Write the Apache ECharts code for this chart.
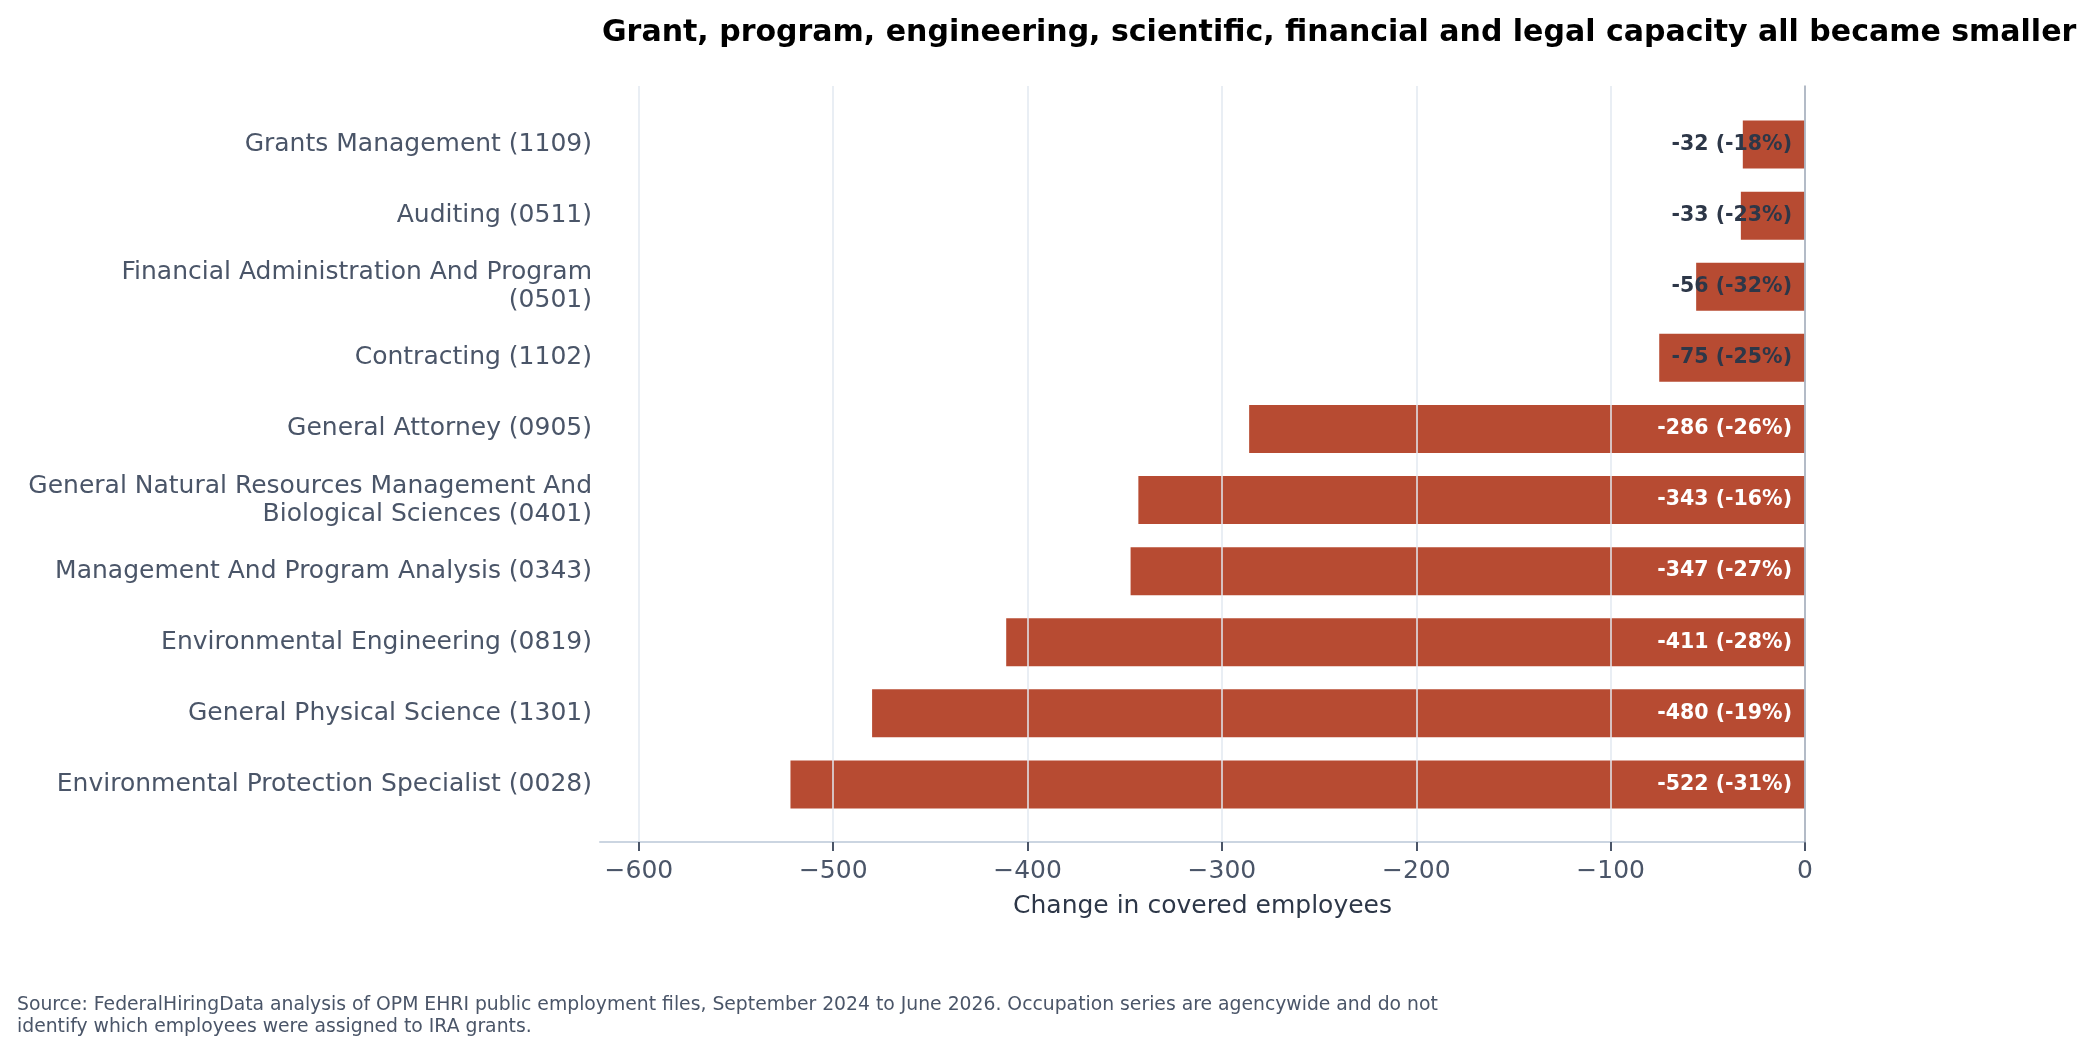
<!DOCTYPE html>
<html>
<head>
<meta charset="utf-8">
<title>Occupation change</title>
<script src="https://cdn.jsdelivr.net/npm/echarts@6/dist/echarts.min.js"></script>
<style>
	html, body { margin: 0; padding: 0; background: #ffffff; }
	#chart { width: 2095px; height: 1055px; }
</style>
</head>
<body>
<div id="chart"></div>
<script>
// 数据
const occupations = [
	'Grants Management (1109)',
	'Auditing (0511)',
	'Financial Administration And Program (0501)',
	'Contracting (1102)',
	'General Attorney (0905)',
	'General Natural Resources Management And Biological Sciences (0401)',
	'Management And Program Analysis (0343)',
	'Environmental Engineering (0819)',
	'General Physical Science (1301)',
	'Environmental Protection Specialist (0028)'
]
const changeValues = [-32, -33, -56, -75, -286, -343, -347, -411, -480, -522]
const changePct = [-18, -23, -32, -25, -26, -16, -27, -28, -19, -31]
const xTicks = [-600, -500, -400, -300, -200, -100, 0]

const FONT = 'DejaVu Sans'
const BAR_COLOR = '#b74b32'

// 标签换行
const wrapText = (text, width) => {
	const words = text.split(' ')
	const lines = []
	let line = ''
	words.forEach(w => {
		if (line && (line + ' ' + w).length > width) {
			lines.push(line)
			line = w
		} else {
			line = line ? line + ' ' + w : w
		}
	})
	if (line) lines.push(line)
	return lines.join('\n')
}

const minusFmt = (v) => (v < 0 ? '\u2212' + Math.abs(v) : String(v))

const chart = echarts.init(document.getElementById('chart'))

const option = {
	animation: false,
	backgroundColor: '#ffffff',
	title: {
		text: 'Grant, program, engineering, scientific, financial and legal capacity all became smaller',
		left: 602,
		top: 18,
		padding: 0,
		textStyle: {
			fontFamily: FONT,
			fontSize: 30,
			fontWeight: 'bold',
			color: '#000000'
		}
	},
	graphic: [
		{
			type: 'text',
			left: 17,
			top: 994,
			style: {
				text: 'Source: FederalHiringData analysis of OPM EHRI public employment files, September 2024 to June 2026. Occupation series are agencywide and do not\nidentify which employees were assigned to IRA grants.',
				font: '18.8px "DejaVu Sans"',
				lineHeight: 22,
				fill: '#4a5568'
			}
		}
	],
	grid: [
		{ left: 600, right: 290, top: 86, bottom: 213 },
		{ left: 600, right: 290, top: 109, height: 711 }
	],
	xAxis: [
		{
			type: 'value',
			gridIndex: 0,
			min: -620,
			max: 0,
			z: 3,
			name: 'Change in covered employees',
			nameLocation: 'middle',
			nameGap: 52,
			nameTextStyle: {
				fontFamily: FONT,
				fontSize: 25,
				color: '#2d3748'
			},
			axisLine: {
				show: true,
				lineStyle: { color: '#cbd5e1', width: 2 }
			},
			axisTick: {
				show: true,
				customValues: xTicks,
				length: 9,
				lineStyle: { color: '#4a5568', width: 2 }
			},
			axisLabel: {
				customValues: xTicks,
				margin: 17,
				fontFamily: FONT,
				fontSize: 25,
				color: '#4a5568',
				formatter: minusFmt
			},
			splitLine: {
				show: true,
				lineStyle: { color: '#e2e8f0', width: 1.5 }
			}
		},
		{
			type: 'value',
			gridIndex: 1,
			min: -620,
			max: 0,
			show: false
		}
	],
	yAxis: [
		{
			type: 'value',
			gridIndex: 0,
			position: 'right',
			z: 4,
			axisLine: {
				show: true,
				lineStyle: { color: '#a0aab8', width: 1.5 }
			},
			axisTick: { show: false },
			axisLabel: { show: false },
			splitLine: { show: false }
		},
		{
			type: 'category',
			gridIndex: 1,
			inverse: true,
			data: occupations,
			axisLine: { show: false },
			axisTick: { show: false },
			axisLabel: {
				margin: 8,
				padding: [10, 0, 0, 0],
				fontFamily: FONT,
				fontSize: 25,
				lineHeight: 28,
				color: '#4a5568',
				align: 'right',
				formatter: function(value) {
					return wrapText(value, 42)
				}
			}
		}
	],
	series: [
		{
			type: 'bar',
			xAxisIndex: 1,
			yAxisIndex: 1,
			barWidth: 48,
			z: 2,
			itemStyle: { color: BAR_COLOR },
			data: changeValues.map((v, i) => ({
				value: v,
				label: {
					color: Math.abs(v) < 100 ? '#2d3748' : '#ffffff'
				}
			})),
			label: {
				show: true,
				position: 'insideRight',
				distance: 13,
				padding: [6, 0, 0, 0],
				fontFamily: FONT,
				fontSize: 20.5,
				fontWeight: 'bold',
				formatter: function(p) {
					return changeValues[p.dataIndex] + ' (' + changePct[p.dataIndex] + '%)'
				}
			}
		}
	]
}

chart.setOption(option)
</script>
</body>
</html>
